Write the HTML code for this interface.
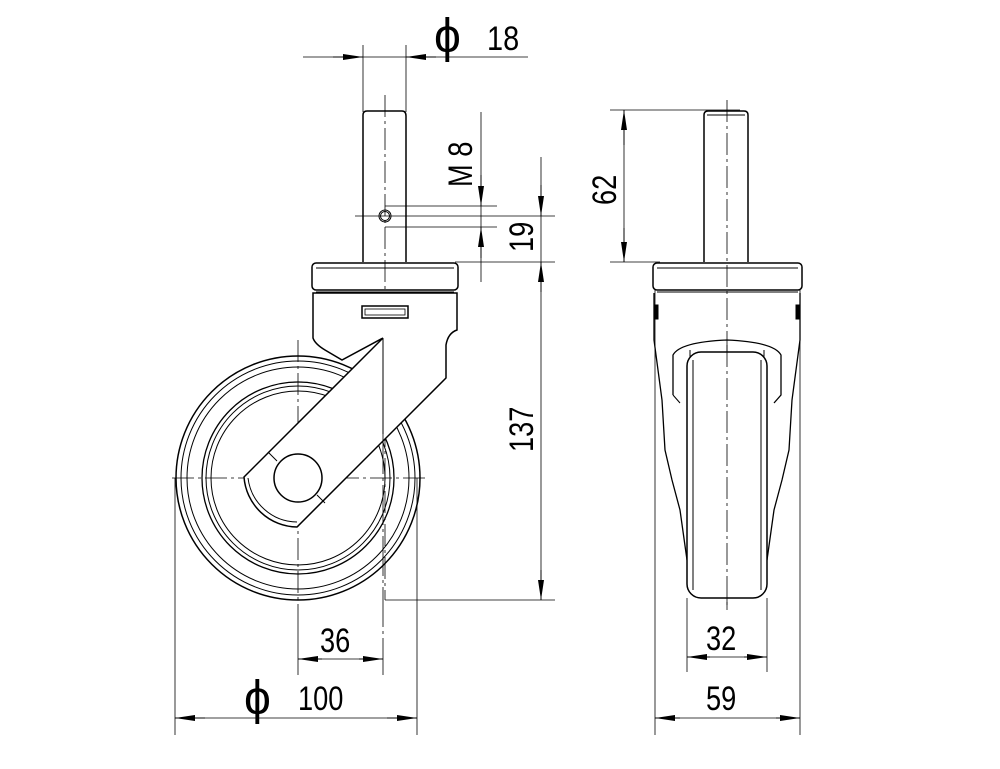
<!DOCTYPE html>
<html><head><meta charset="utf-8"><style>
html,body{margin:0;padding:0;background:#fff;}
svg{display:block;}
text{font-family:"Liberation Sans Narrow","Liberation Sans",sans-serif;fill:#000;}
</style></head><body>
<svg width="1000" height="769" viewBox="0 0 1000 769" xmlns="http://www.w3.org/2000/svg">
<defs>
<marker id="a" viewBox="0 0 20 8" refX="20" refY="4" markerWidth="20" markerHeight="8" markerUnits="userSpaceOnUse" orient="auto"><path d="M0,1 L20,4 L0,7 Z" fill="#000"/></marker>
</defs>
<g stroke="#000" fill="none" stroke-width="1">
<g stroke-dasharray="22,4,3,4" stroke-width="0.8">
<line x1="385" y1="95" x2="385" y2="600"/>
<line x1="298" y1="340" x2="298" y2="610"/>
<line x1="172" y1="478" x2="425" y2="478"/>
<line x1="727" y1="100" x2="727" y2="610"/>
</g>
<line x1="363" y1="45" x2="363" y2="112" stroke-width="0.8"/>
<line x1="406" y1="45" x2="406" y2="112" stroke-width="0.8"/>
<line x1="303" y1="57" x2="528" y2="57" stroke-width="0.8"/>
<line x1="333" y1="57" x2="363" y2="57" marker-end="url(#a)"/>
<line x1="436" y1="57" x2="406" y2="57" marker-end="url(#a)"/>
<path d="M363,262 L363,115 Q363,111 367,111 L402,111 Q406,111 406,116 L406,262" stroke-width="1.5"/>
<circle cx="385" cy="216" r="6"/><circle cx="385" cy="216" r="4.5"/>
<line x1="385" y1="206" x2="497" y2="206" stroke-width="0.8"/>
<line x1="385" y1="227" x2="497" y2="227" stroke-width="0.8"/>
<line x1="481" y1="112" x2="481" y2="282" stroke-width="0.8"/>
<line x1="481" y1="175" x2="481" y2="206" marker-end="url(#a)"/>
<line x1="481" y1="258" x2="481" y2="227" marker-end="url(#a)"/>
<line x1="355" y1="216" x2="555" y2="216" stroke-width="0.8"/>
<line x1="455" y1="262" x2="555" y2="262" stroke-width="0.8"/>
<line x1="385" y1="600" x2="555" y2="600" stroke-width="0.8"/>
<line x1="541" y1="157" x2="541" y2="600" stroke-width="0.8"/>
<line x1="541" y1="185" x2="541" y2="216" marker-end="url(#a)"/>
<line x1="541" y1="292" x2="541" y2="262" marker-end="url(#a)"/>
<line x1="541" y1="570" x2="541" y2="600" marker-end="url(#a)"/>
<rect x="312" y="263" width="146" height="27" rx="4" stroke-width="1.5"/>
<line x1="316" y1="268" x2="454" y2="268"/>
<line x1="316" y1="292" x2="454" y2="292"/>
<circle cx="298" cy="478" r="122" stroke-width="1.5"/>
<circle cx="298" cy="478" r="117"/>
<circle cx="298" cy="478" r="111"/>
<circle cx="298" cy="478" r="96" stroke-width="1.3"/>
<circle cx="298" cy="478" r="92"/>
<circle cx="298" cy="478" r="87"/>
<path d="M313,293 L313,338 Q315,344 325,350 L342,360 L383,338 L244,477 A54,54 0 0 0 297,527 L446,378 L446,345 Q448,333 457,330 L457,293 Z" fill="#fff" stroke-width="1.5"/>
<line x1="383" y1="338" x2="383" y2="434"/>
<path d="M248,478 A50,50 0 0 0 297,522" />
<circle cx="298" cy="478" r="24" fill="#fff" stroke-width="1.5"/>
<line x1="268" y1="452" x2="277" y2="461"/>
<line x1="317" y1="495" x2="325" y2="503"/>
<rect x="362" y="306" width="46" height="12" stroke-width="1.5"/>
<rect x="365" y="309" width="40" height="6" stroke-width="0.8"/>
<line x1="175" y1="478" x2="175" y2="735" stroke-width="0.8"/>
<line x1="417" y1="478" x2="417" y2="735" stroke-width="0.8"/>
<line x1="175" y1="718" x2="417" y2="718" stroke-width="0.8"/>
<line x1="205" y1="718" x2="175" y2="718" marker-end="url(#a)"/>
<line x1="387" y1="718" x2="417" y2="718" marker-end="url(#a)"/>
<line x1="383" y1="434" x2="383" y2="675" stroke-width="0.8" stroke-dasharray="40,4,3,4"/>
<line x1="298" y1="610" x2="298" y2="675" stroke-width="0.8"/>
<line x1="298" y1="659" x2="383" y2="659" stroke-width="0.8"/>
<line x1="322" y1="659" x2="298" y2="659" marker-end="url(#a)"/>
<line x1="359" y1="659" x2="383" y2="659" marker-end="url(#a)"/>
<line x1="610" y1="110" x2="740" y2="110" stroke-width="0.8"/>
<line x1="610" y1="262" x2="660" y2="262" stroke-width="0.8"/>
<line x1="624" y1="110" x2="624" y2="262" stroke-width="0.8"/>
<line x1="624" y1="145" x2="624" y2="110" marker-end="url(#a)"/>
<line x1="624" y1="228" x2="624" y2="262" marker-end="url(#a)"/>
<path d="M704,262 L704,115 Q704,111 708,111 L744,111 Q748,111 748,115 L748,262" stroke-width="1.5"/>
<line x1="707" y1="115" x2="745" y2="115"/>
<rect x="653" y="263" width="149" height="27" rx="4" stroke-width="1.5"/>
<line x1="657" y1="268" x2="798" y2="268"/>
<line x1="657" y1="292" x2="798" y2="292"/>
<path d="M654,293 L654,340 L662,400 L665,450 L672,480 L680,510 L687,560" stroke-width="1.3"/>
<path d="M800,293 L800,340 L792,400 L789,450 L782,480 L774,510 L767,560" stroke-width="1.3"/>
<rect x="654" y="305" width="4" height="14" fill="#000"/>
<rect x="796" y="305" width="4" height="14" fill="#000"/>
<path d="M673,395 L673,355 Q680,342 727,340 Q774,342 781,355 L781,395 L774,403" stroke-width="1.3"/>
<path d="M673,395 L680,403"/>
<line x1="690" y1="350" x2="690" y2="358"/><line x1="764" y1="350" x2="764" y2="358"/>
<path d="M690,358 Q727,352 764,358"/>
<rect x="687" y="352" width="80" height="246" rx="14" fill="#fff" stroke-width="1.5"/>
<line x1="693" y1="360" x2="693" y2="590"/>
<line x1="761" y1="360" x2="761" y2="590"/>
<line x1="727" y1="345" x2="727" y2="605" stroke-width="0.8" stroke-dasharray="22,4,3,4"/>
<line x1="687" y1="598" x2="687" y2="672" stroke-width="0.8"/>
<line x1="767" y1="598" x2="767" y2="672" stroke-width="0.8"/>
<line x1="687" y1="657" x2="767" y2="657" stroke-width="0.8"/>
<line x1="710" y1="657" x2="687" y2="657" marker-end="url(#a)"/>
<line x1="744" y1="657" x2="767" y2="657" marker-end="url(#a)"/>
<line x1="655" y1="290" x2="655" y2="735" stroke-width="0.8"/>
<line x1="800" y1="290" x2="800" y2="735" stroke-width="0.8"/>
<line x1="655" y1="718" x2="800" y2="718" stroke-width="0.8"/>
<line x1="680" y1="718" x2="655" y2="718" marker-end="url(#a)"/>
<line x1="776" y1="718" x2="800" y2="718" marker-end="url(#a)"/>
</g>
<g font-size="34">
<text x="434" y="52" font-size="48">ϕ</text>
<text x="487" y="50" transform="translate(487 0) scale(0.85 1) translate(-487 0)">18</text>
<text x="244" y="714" font-size="48">ϕ</text>
<text x="298" y="710" transform="translate(298 0) scale(0.8 1) translate(-298 0)">100</text>
<text x="320" y="652" transform="translate(320 0) scale(0.8 1) translate(-320 0)">36</text>
<text x="706" y="650" transform="translate(706 0) scale(0.8 1) translate(-706 0)">32</text>
<text x="706" y="710" transform="translate(706 0) scale(0.8 1) translate(-706 0)">59</text>
<text transform="translate(533 252) rotate(-90) scale(0.8 1)">19</text>
<text transform="translate(533 452) rotate(-90) scale(0.8 1)">137</text>
<text transform="translate(472 187) rotate(-90) scale(0.8 1)">M 8</text>
<text transform="translate(616 205) rotate(-90) scale(0.8 1)">62</text>
</g>
</svg>
</body></html>
